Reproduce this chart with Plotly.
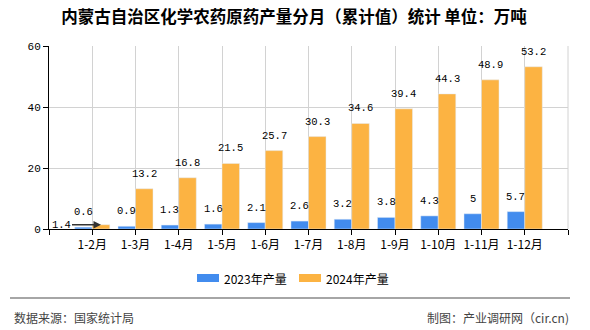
import plotly.graph_objects as go

# ---- data ----
categories = ["1-2月", "1-3月", "1-4月", "1-5月", "1-6月", "1-7月", "1-8月", "1-9月", "1-10月", "1-11月", "1-12月"]
values_2023 = [0.6, 0.9, 1.3, 1.6, 2.1, 2.6, 3.2, 3.8, 4.3, 5, 5.7]
values_2024 = [1.4, 13.2, 16.8, 21.5, 25.7, 30.3, 34.6, 39.4, 44.3, 48.9, 53.2]
series_names = ["2023年产量", "2024年产量"]
y_ticks = [0, 20, 40, 60]
title_text = "内蒙古自治区化学农药原药产量分月（累计值）统计 单位：万吨"
source_text = "数据来源：国家统计局"
credit_text = "制图：产业调研网（cir.cn)"

# ---- style ----
W, H = 590, 330
ML, MR, MT, MB = 49, 22, 46, 101
PW, PH = W - ML - MR, H - MT - MB
BLUE = "rgb(66,140,238)"
ORANGE = "rgb(252,179,66)"
GRID = "#d2d2d2"
CJK = "Noto Sans CJK SC"
NUM = "Liberation Mono"
BARGAP = 0.19


def px_x(px):
    return (px - ML) / PW


def px_y(py):
    return (H - MB - py) / PH


idx = list(range(len(categories)))
off = (1 - BARGAP) / 4

fig = go.Figure()
fig.add_trace(go.Bar(x=idx, y=values_2023, name=series_names[0], marker_color=BLUE,
                     showlegend=False, hoverinfo="skip"))
fig.add_trace(go.Bar(x=idx, y=values_2024, name=series_names[1], marker_color=ORANGE,
                     showlegend=False, hoverinfo="skip"))

annotations = []
# value labels
for i, v in zip(idx, values_2023):
    annotations.append(dict(x=i - off, y=v, xref="x", yref="y", text=f"{v:g}", showarrow=False,
                            yanchor="bottom", yshift=7, font=dict(family=NUM, size=10.5, color="#000")))
for i, v in zip(idx, values_2024):
    if i == 0:
        annotations.append(dict(x=i + off, y=v, xref="x", yref="y", text=f"{v:g}", showarrow=True,
                                ax=-40, ay=0, arrowhead=2, arrowsize=1, arrowwidth=1.5,
                                arrowcolor="#333", font=dict(family=NUM, size=10.5, color="#000")))
    else:
        annotations.append(dict(x=i + off, y=v, xref="x", yref="y", text=f"{v:g}", showarrow=False,
                                yanchor="bottom", yshift=7, font=dict(family=NUM, size=10.5, color="#000")))

# legend (manual)
shapes = []
legend_items = [(series_names[0], BLUE, 197), (series_names[1], ORANGE, 299)]
for name, col, x0 in legend_items:
    shapes.append(dict(type="rect", xref="paper", yref="paper", x0=px_x(x0), x1=px_x(x0 + 22),
                       y0=px_y(282), y1=px_y(274), fillcolor=col, line=dict(width=0)))
    annotations.append(dict(x=px_x(x0 + 25), y=px_y(278), xref="paper", yref="paper", text=name,
                            showarrow=False, xanchor="left", yanchor="middle",
                            font=dict(family=CJK, size=12, color="#000")))

# right border of plot area
shapes.append(dict(type="line", xref="paper", yref="paper", x0=1, x1=1, y0=0, y1=1,
                   line=dict(color=GRID, width=1)))
# footer line
shapes.append(dict(type="line", xref="paper", yref="paper", x0=px_x(10), x1=px_x(570),
                   y0=px_y(298), y1=px_y(298), line=dict(color="#888", width=1.5)))
annotations.append(dict(x=px_x(12), y=px_y(317), xref="paper", yref="paper", text=source_text,
                        showarrow=False, xanchor="left", yanchor="middle",
                        font=dict(family=CJK, size=12, color="#444")))
annotations.append(dict(x=px_x(571), y=px_y(317), xref="paper", yref="paper", text=credit_text,
                        showarrow=False, xanchor="right", yanchor="middle",
                        font=dict(family=CJK, size=12, color="#444")))

fig.update_layout(
    width=W, height=H,
    margin=dict(l=ML, r=MR, t=MT, b=MB, pad=0),
    paper_bgcolor="white", plot_bgcolor="white",
    barmode="group", bargap=BARGAP, bargroupgap=0,
    title=dict(text=title_text, x=(294 - ML) / PW, xref="paper", xanchor="center", y=1 - 17 / H,
               yanchor="middle", font=dict(family=CJK, size=16.5, color="#000", weight="bold")),
    annotations=annotations,
    shapes=shapes,
)
fig.update_xaxes(
    range=[-1, len(categories)],
    tickmode="array",
    tickvals=[-1] + idx + [len(categories)],
    ticktext=[""] + categories + [""],
    showgrid=True, gridcolor=GRID, gridwidth=1,
    showline=True, linecolor="#000", linewidth=1,
    ticks="outside", ticklen=5, tickcolor="#000",
    tickfont=dict(family=CJK, size=12, color="#000"),
    zeroline=False, fixedrange=True,
)
fig.update_yaxes(
    range=[0, 60],
    tickmode="array", tickvals=y_ticks,
    showgrid=True, gridcolor=GRID, gridwidth=1,
    showline=True, linecolor="#000", linewidth=1,
    ticks="outside", ticklen=5, tickcolor="#000",
    tickfont=dict(family=NUM, size=11, color="#000"),
    zeroline=False, fixedrange=True,
)

fig.write_html("out.html", config={"displayModeBar": False})
